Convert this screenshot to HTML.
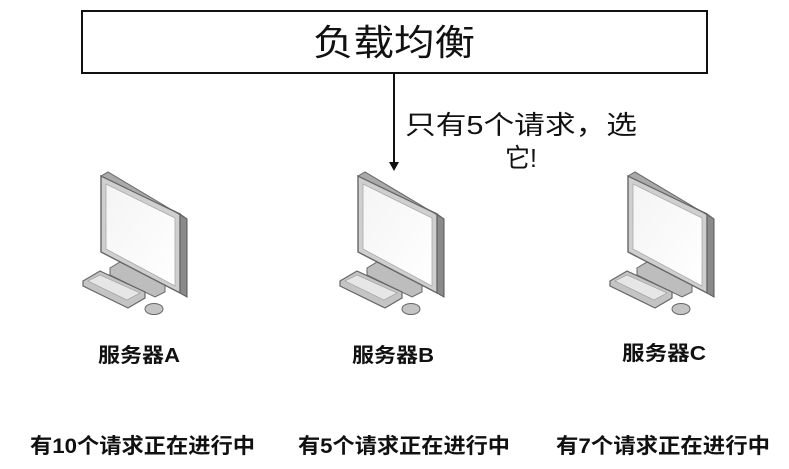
<!DOCTYPE html>
<html><head><meta charset="utf-8"><style>
body{margin:0;background:#fff;}
svg text{font-family:"Liberation Sans","Noto Sans CJK SC",sans-serif;}
</style></head><body>
<svg width="789" height="464" viewBox="0 0 789 464" xmlns="http://www.w3.org/2000/svg">
<defs>
<linearGradient id="scr" x1="0" y1="0" x2="1" y2="1">
<stop offset="0" stop-color="#f4f4f4"/><stop offset="1" stop-color="#ffffff"/></linearGradient>
<g id="pc">
<polygon points="110,268 120,262 165,285 165,292 155,297 110,275" fill="#bdbdbd" stroke="#666" stroke-width="1"/>
<polygon points="180,214 187,219 187,297 180,293" fill="#8a8a8a" stroke="#555" stroke-width="1"/>
<polygon points="101,176 180,214 180,293 101,252" fill="#cfcfcf" stroke="#666" stroke-width="1.4"/>
<polygon points="101,176 108,172 187,219 180,214" fill="#aaa" stroke="#666" stroke-width="1"/>
<polygon points="106,184 175,218 175,286 106,249" fill="url(#scr)" stroke="#aaa" stroke-width="0.8"/>
<polygon points="83,281 100,271 145,292 145,298 128,308 83,286" fill="#c4c4c4" stroke="#666" stroke-width="1.2"/>
<polygon points="88,281 100,275 140,293 127,300" fill="#e6e6e6" stroke="#999" stroke-width="0.6"/>
<ellipse cx="154" cy="309" rx="9" ry="5.5" fill="#c4c4c4" stroke="#666" stroke-width="1"/>
</g>
</defs>
<rect x="82" y="11" width="625" height="62" fill="#fff" stroke="#111" stroke-width="2"/>
<text x="313" y="55" font-size="36" textLength="162" lengthAdjust="spacingAndGlyphs" fill="#111">负载均衡</text>
<line x1="394" y1="73" x2="394" y2="164" stroke="#111" stroke-width="2"/>
<polygon points="389,162 399,162 394,171" fill="#111"/>
<text x="405" y="134" font-size="26" textLength="232" lengthAdjust="spacingAndGlyphs" fill="#111">只有5个请求，选</text>
<text x="505" y="167" font-size="26" textLength="32" lengthAdjust="spacingAndGlyphs" fill="#111">它!</text>
<use href="#pc"/>
<use href="#pc" x="257"/>
<use href="#pc" x="527"/>
<text x="98" y="362" font-size="20" font-weight="bold" textLength="82" lengthAdjust="spacingAndGlyphs" fill="#111">服务器A</text>
<text x="352" y="362" font-size="20" font-weight="bold" textLength="82" lengthAdjust="spacingAndGlyphs" fill="#111">服务器B</text>
<text x="622" y="360" font-size="20" font-weight="bold" textLength="84" lengthAdjust="spacingAndGlyphs" fill="#111">服务器C</text>
<text x="30" y="453" font-size="21" font-weight="bold" textLength="225" lengthAdjust="spacingAndGlyphs" fill="#111">有10个请求正在进行中</text>
<text x="298" y="453" font-size="21" font-weight="bold" textLength="212" lengthAdjust="spacingAndGlyphs" fill="#111">有5个请求正在进行中</text>
<text x="556" y="453" font-size="21" font-weight="bold" textLength="214" lengthAdjust="spacingAndGlyphs" fill="#111">有7个请求正在进行中</text>
</svg>
</body></html>
